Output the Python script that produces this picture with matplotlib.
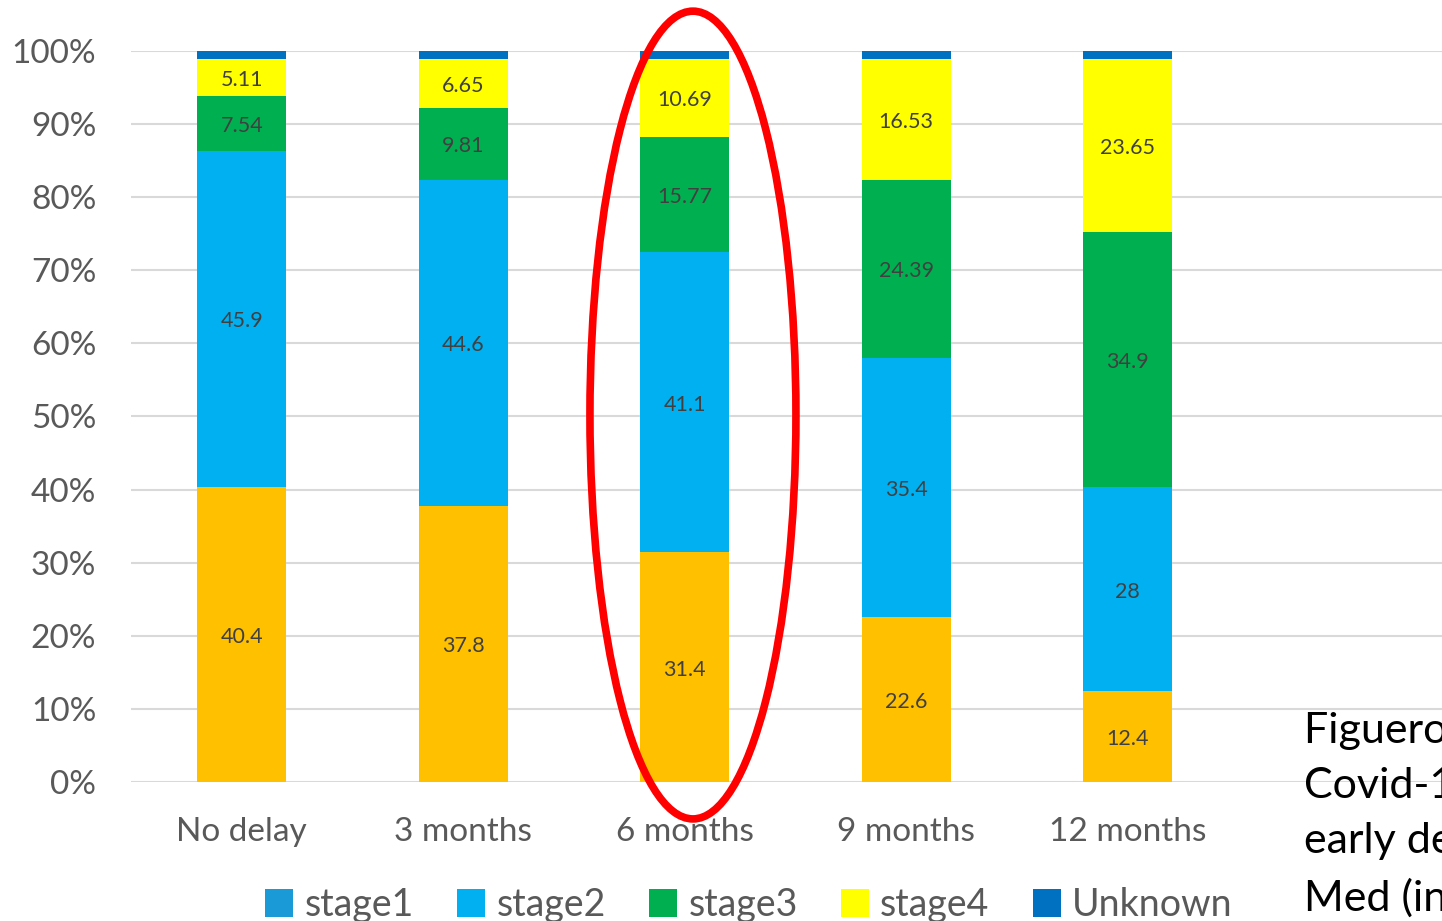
import matplotlib.pyplot as plt
import numpy as np
from matplotlib.patches import Ellipse, Patch

plt.rcParams['font.family'] = ['Lato', 'DejaVu Sans']

categories = ['No delay', '3 months', '6 months', '9 months', '12 months']
stage1 = np.array([40.4, 37.8, 31.4, 22.6, 12.4])
stage2 = np.array([45.9, 44.6, 41.1, 35.4, 28])
stage3 = np.array([7.54, 9.81, 15.77, 24.39, 34.9])
stage4 = np.array([5.11, 6.65, 10.69, 16.53, 23.65])
unknown = np.array([1.05, 1.14, 1.04, 1.08, 1.05])
stage2_labels = ['45.9', '44.6', '41.1', '35.4', '28']

series = [stage1, stage2, stage3, stage4, unknown]
colors = ['#FFC000', '#00B0F0', '#00B050', '#FFFF00', '#0070C0']
legend_names = ['stage1', 'stage2', 'stage3', 'stage4', 'Unknown']
legend_colors = ['#1A9BD7', '#00B0F0', '#00B050', '#FFFF00', '#0070C0']

fig = plt.figure(figsize=(14.42, 9.21), dpi=100)
ax = fig.add_axes([131 / 1442, 139 / 921, 1 - 131 / 1442, 731 / 921])

x = np.arange(len(categories))
bottom = np.zeros(len(categories))
for i, (vals, c) in enumerate(zip(series, colors)):
    ax.bar(x, vals, 0.40, bottom=bottom, color=c, zorder=2)
    if i < 4:
        for j, v in enumerate(vals):
            txt = stage2_labels[j] if i == 1 else f'{v:g}'
            ax.text(x[j], bottom[j] + v / 2 - 0.35, txt, ha='center', va='center',
                    fontsize=15.5, color='#404040', zorder=3)
    bottom += vals

ax.set_xlim(-0.5, -0.5 + 1311 / 221.5)
ax.set_ylim(0, 100)
ax.set_yticks(np.arange(0, 101, 10))
ax.set_yticklabels([f'{v}%' for v in range(0, 101, 10)])
ax.set_xticks(x)
ax.set_xticklabels(categories)
ax.tick_params(axis='y', length=0, pad=25, labelsize=24, labelcolor='#595959')
ax.tick_params(axis='x', length=0, pad=25, labelsize=24, labelcolor='#595959')
ax.grid(axis='y', color='#D9D9D9', lw=1.5, zorder=0)
for s in ax.spines.values():
    s.set_visible(False)

ell = Ellipse((2.037, 50.2), 0.93, 110.5, fill=False, edgecolor='#FF0000',
              lw=5.5, clip_on=False, zorder=5)
ax.add_patch(ell)

handles = [Patch(facecolor=c) for c in legend_colors]
fig.legend(handles, legend_names, loc='center', bbox_to_anchor=(749 / 1442, 16 / 921),
           ncol=5, frameon=False, fontsize=27, labelcolor='#595959',
           handlelength=0.75, handleheight=0.75, handletextpad=0.3, columnspacing=1.15)

fig.text(1304 / 1442, 1 - 712 / 921, 'Figueroa et al.\nCovid-19 and\nearly detection\nMed (in press)',
         fontsize=31, color='black', va='top', ha='left', linespacing=1.55)

fig.savefig('out.png', dpi=100)
